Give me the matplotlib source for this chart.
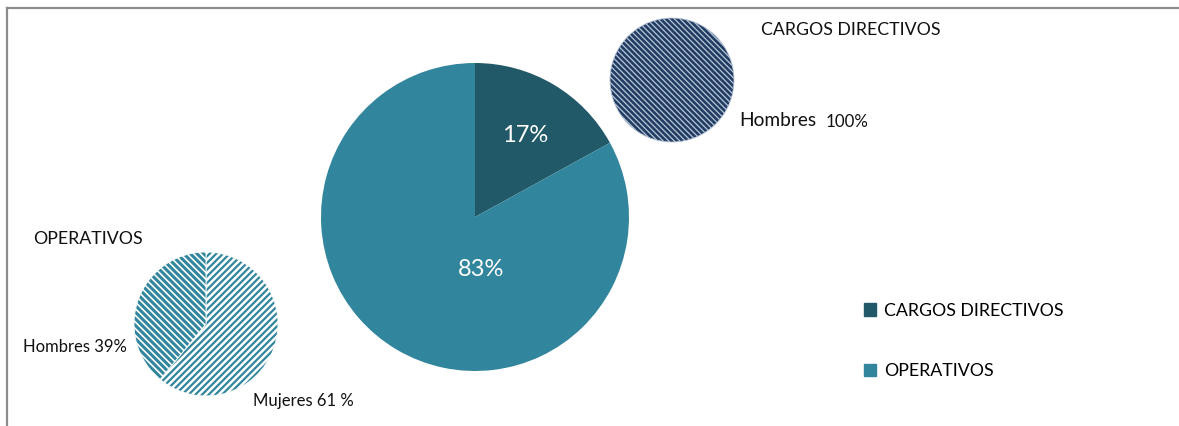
import matplotlib
matplotlib.use("Agg")
import matplotlib.pyplot as plt
from matplotlib.lines import Line2D

# ---- data ----
main_labels = ["CARGOS DIRECTIVOS", "OPERATIVOS"]
main_values = [17, 83]
main_pct_text = ["17%", "83%"]

dir_title = "CARGOS DIRECTIVOS"
dir_labels = ["Hombres"]
dir_values = [100]
dir_text = "100%"

op_title = "OPERATIVOS"
op_labels = ["Mujeres", "Hombres"]
op_values = [61, 39]
op_text = ["Mujeres 61 %", "Hombres 39%"]

# ---- style ----
C_DIR = "#215968"
C_OP = "#31859C"
C_NAVY = "#223D63"
FONT = ["Lato", "DejaVu Sans"]
plt.rcParams["font.family"] = FONT

W, H = 1179, 426
fig = plt.figure(figsize=(W / 100, H / 100), dpi=100)
ax = fig.add_axes([0, 0, 1, 1])


def Y(y):
    return H - y


def hatch_lw(patch, lw):
    if hasattr(patch, "set_hatch_linewidth"):
        patch.set_hatch_linewidth(lw)


# main pie
wedges, _ = ax.pie(main_values, colors=[C_DIR, C_OP], startangle=90,
                   counterclock=False, center=(475, Y(217)), radius=154,
                   wedgeprops=dict(linewidth=0))
ax.text(525, Y(136), main_pct_text[0], color="white", fontsize=17,
        ha="center", va="center")
ax.text(481, Y(270), main_pct_text[1], color="white", fontsize=17,
        ha="center", va="center")

# directivos small pie
plt.rcParams["hatch.linewidth"] = 0.9
dw, _ = ax.pie(dir_values, colors=[C_NAVY], startangle=90, counterclock=False,
               center=(672, Y(80)), radius=62,
               wedgeprops=dict(linewidth=0.6, edgecolor="#b9c6d9",
                               hatch="\\" * 6))
hatch_lw(dw[0], 0.9)
ax.text(851, Y(30), dir_title, fontsize=12.8, ha="center", va="center",
        color="#111111")
ax.text(739, Y(121), dir_labels[0], fontsize=13.8, ha="left", va="center",
        color="#111111")
ax.text(826, Y(122), dir_text, fontsize=12.2, ha="left", va="center",
        color="#111111")

# operativos small pie
ow, _ = ax.pie(op_values, colors=[C_OP, C_OP], startangle=90,
               counterclock=False, center=(206, Y(324)), radius=72,
               wedgeprops=dict(linewidth=0.6, edgecolor="white"))
ow[0].set_hatch("/" * 5)
ow[1].set_hatch("\\" * 5)
hatch_lw(ow[0], 1.8)
hatch_lw(ow[1], 1.2)
ax.text(88, Y(239), op_title, fontsize=12.8, ha="center", va="center",
        color="#111111")
ax.text(75, Y(347), op_text[1], fontsize=12, ha="center", va="center",
        color="#111111")
ax.text(303, Y(401), op_text[0], fontsize=12, ha="center", va="center",
        color="#111111")

ax.set_xlim(0, W)
ax.set_ylim(0, H)
ax.axis("off")

# legend
handles = [plt.Rectangle((0, 0), 1, 1, color=c) for c in (C_DIR, C_OP)]
leg = ax.legend(handles, main_labels, loc="upper left",
                bbox_to_anchor=(855 / W, 1 - 294 / H),
                bbox_transform=fig.transFigure, frameon=False,
                fontsize=12.8, handlelength=0.7, handleheight=0.7,
                handletextpad=0.45, labelspacing=2.5, borderpad=0)

# frame lines
fig.add_artist(Line2D([6.5 / W, 1], [1 - 7.5 / H, 1 - 7.5 / H],
                      transform=fig.transFigure, color="#8c8c8c", lw=1.6))
fig.add_artist(Line2D([6.5 / W, 6.5 / W], [0, 1 - 7.5 / H],
                      transform=fig.transFigure, color="#8c8c8c", lw=1.6))

fig.savefig("out.png", dpi=100, facecolor="white")
